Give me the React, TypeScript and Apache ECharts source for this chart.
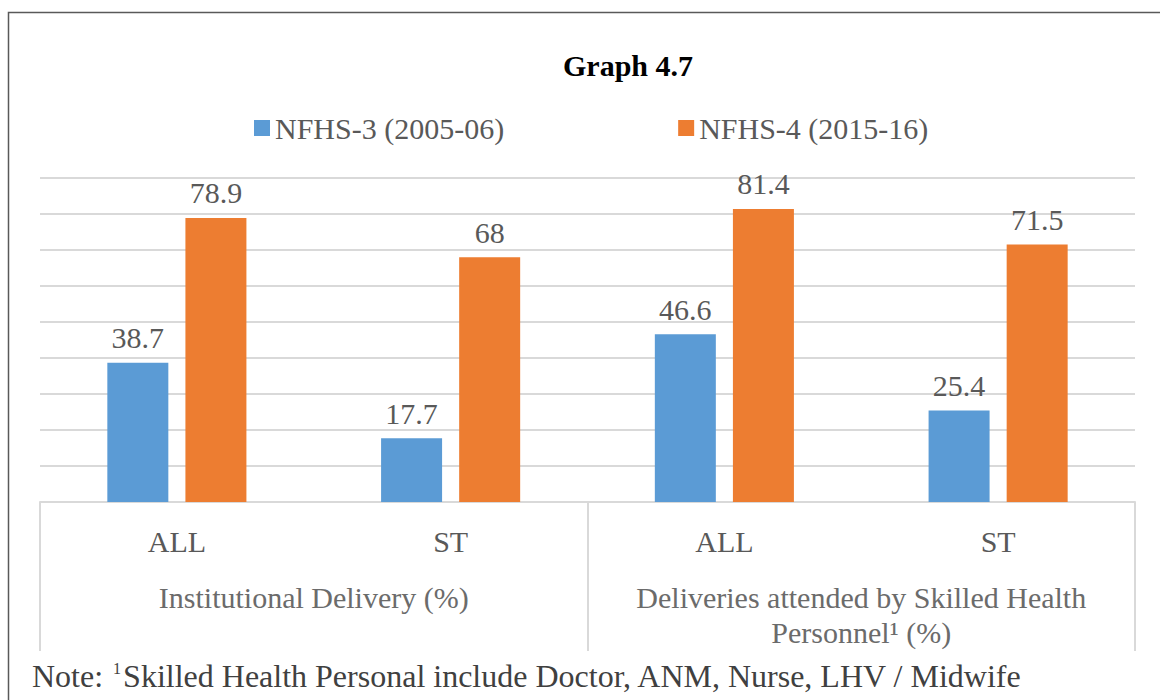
import React, { useEffect, useRef } from "react";
import * as echarts from "echarts";

const subCategories = ["ALL", "ST", "ALL", "ST"];
const groupCategories = [
  "Institutional Delivery (%)",
  "Deliveries attended by Skilled Health\nPersonnel¹ (%)",
];
const seriesNames = ["NFHS-3 (2005-06)", "NFHS-4 (2015-16)"];
const nfhs3 = [38.7, 17.7, 46.6, 25.4];
const nfhs4 = [78.9, 68, 81.4, 71.5];
const colors = ["#5b9bd5", "#ed7d31"];
const titleText = "Graph 4.7";
const notePrefix = "Note: ";
const noteSup = "1";
const noteBody = "Skilled Health Personal include Doctor, ANM, Nurse, LHV / Midwife";

const FONT = "Liberation Serif";

export default function App() {
  const ref = useRef<HTMLDivElement>(null);
  useEffect(() => {
    if (!ref.current) return;
    const chart = echarts.init(ref.current, undefined, { renderer: "svg" });
    const labelStyle = {
      show: true,
      position: "top" as const,
      distance: 10,
      fontFamily: FONT,
      fontSize: 30,
      color: "#595959",
    };
    chart.setOption({
      animation: false,
      backgroundColor: "#ffffff",
      textStyle: { fontFamily: FONT },
      legend: {
        left: 249,
        top: 108,
        itemWidth: 16,
        itemHeight: 16,
        itemGap: 174,
        icon: "rect",
        textStyle: { fontFamily: FONT, fontSize: 30, color: "#595959" },
        data: seriesNames,
      },
      grid: { left: 40, right: 25, top: 178, bottom: 198 },
      xAxis: [
        {
          type: "category",
          data: subCategories,
          position: "bottom",
          axisLine: { show: true, lineStyle: { color: "#d9d9d9", width: 2 } },
          axisTick: { show: false },
          axisLabel: {
            interval: 0,
            margin: 24,
            fontFamily: FONT,
            fontSize: 30,
            color: "#595959",
          },
        },
        {
          type: "category",
          data: groupCategories,
          position: "bottom",
          axisLine: { show: false },
          axisTick: {
            show: true,
            interval: 0,
            length: 149,
            lineStyle: { color: "#d9d9d9", width: 2 },
          },
          axisLabel: {
            interval: 0,
            hideOverlap: false,
            margin: 78,
            fontFamily: FONT,
            fontSize: 30,
            lineHeight: 35,
            color: "#6b6b6b",
            align: "center",
          },
        },
      ],
      yAxis: {
        type: "value",
        min: 0,
        max: 90,
        interval: 10,
        axisLabel: { show: false },
        axisLine: { show: false },
        axisTick: { show: false },
        splitLine: { lineStyle: { color: "#d9d9d9", width: 2 } },
      },
      series: [
        {
          name: seriesNames[0],
          type: "bar",
          xAxisIndex: 0,
          data: nfhs3,
          barWidth: 61,
          barGap: "28%",
          itemStyle: { color: colors[0] },
          label: labelStyle,
        },
        {
          name: seriesNames[1],
          type: "bar",
          xAxisIndex: 0,
          data: nfhs4,
          barWidth: 61,
          barGap: "28%",
          itemStyle: { color: colors[1] },
          label: labelStyle,
        },
      ],
      graphic: [
        {
          type: "rect",
          shape: { x: 8.5, y: 12.5, width: 1200, height: 750 },
          style: { fill: "none", stroke: "#595959", lineWidth: 1.5 },
          silent: true,
        },
        {
          type: "text",
          x: 628,
          y: 65,
          style: {
            text: titleText,
            fontFamily: FONT,
            fontSize: 30,
            fontWeight: "bold",
            fill: "#000000",
            align: "center",
            verticalAlign: "middle",
          },
        },
        {
          type: "text",
          x: 32,
          y: 660,
          style: {
            text: `{m|${notePrefix}}{s|${noteSup}}{m|${noteBody}}`,
            fontFamily: FONT,
            fontSize: 32,
            fill: "#404040",
            align: "left",
            verticalAlign: "top",
            rich: {
              m: { fontFamily: FONT, fontSize: 32, fill: "#404040", lineHeight: 32, verticalAlign: "bottom" },
              s: { fontFamily: FONT, fontSize: 16, fill: "#404040", lineHeight: 32, verticalAlign: "top", padding: [0, 2, 14, 2] },
            },
          },
        },
      ],
    });
    return () => chart.dispose();
  }, []);
  return (
    <div
      ref={ref}
      style={{ position: "fixed", left: 0, top: 0, width: 1160, height: 700 }}
    />
  );
}
